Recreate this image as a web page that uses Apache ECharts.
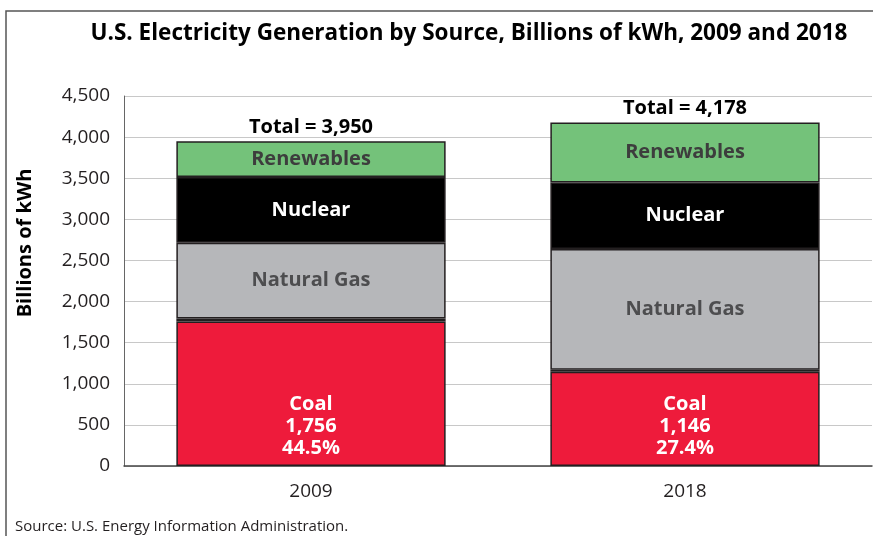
<!DOCTYPE html>
<html>
<head>
<meta charset="utf-8">
<script src="https://cdn.jsdelivr.net/npm/echarts@6/dist/echarts.min.js"></script>
<style>
  html, body { margin: 0; padding: 0; background: #fff; }
  #chart { width: 873px; height: 536px; }
</style>
</head>
<body>
<div id="chart"></div>
<script>
// values in billions of kWh
const years = ["2009", "2018"];
const coal = [1756, 1146];
const petroleum = [39, 25];
const naturalGas = [921, 1469];
const nuclear = [799, 807];
const renewables = [435, 731];
const totals = [3950, 4178];
const coalShare = ["44.5%", "27.4%"];
const yTicks = [0, 500, 1000, 1500, 2000, 2500, 3000, 3500, 4000, 4500];

const FONT = "Open Sans";
const fmt = (v) => v.toLocaleString("en-US");

const chart = echarts.init(document.getElementById("chart"));

function seg(name, data, color, label) {
  return {
    name: name,
    type: "bar",
    stack: "total",
    barWidth: "72%",
    data: data,
    itemStyle: { color: color, borderColor: "#231f20", borderWidth: 1.5 },
    label: label || { show: false },
  };
}

const option = {
  animation: false,
  textStyle: { fontFamily: FONT },
  title: {
    text: "U.S. Electricity Generation by Source, Billions of kWh, 2009 and 2018",
    left: 464,
    top: 17,
    textAlign: "center",
    textStyle: { fontFamily: FONT, fontWeight: "bold", fontSize: 22.5, color: "#000" },
  },
  graphic: [
    {
      type: "rect",
      shape: { x: 6, y: 11, width: 1000, height: 700 },
      style: { fill: "none", stroke: "#555", lineWidth: 1.5 },
      silent: true,
    },
    {
      type: "text",
      x: 25,
      y: 243,
      rotation: Math.PI / 2,
      style: {
        text: "Billions of kWh",
        fontFamily: FONT,
        fontWeight: "bold",
        fontSize: 20,
        fill: "#000",
        align: "center",
        verticalAlign: "middle",
      },
    },
    {
      type: "text",
      left: 15,
      top: 519,
      style: { text: "Source: U.S. Energy Information Administration.", fontFamily: FONT, fontSize: 15, fill: "#231f20" },
    },
  ],
  grid: { left: 124, right: 1, top: 96, bottom: 70 },
  xAxis: {
    type: "category",
    data: years,
    axisLine: { lineStyle: { color: "#444", width: 1.5 } },
    axisTick: { inside: true, length: 9, lineStyle: { color: "#444" } },
    axisLabel: { margin: 16, fontSize: 19, color: "#231f20", fontFamily: FONT },
  },
  yAxis: {
    type: "value",
    min: yTicks[0],
    max: yTicks[yTicks.length - 1],
    interval: 500,
    axisLine: { show: true, lineStyle: { color: "#666", width: 1 } },
    axisTick: { show: false },
    splitLine: { lineStyle: { color: "#c8c8c8" } },
    axisLabel: { formatter: fmt, fontSize: 19, margin: 14, color: "#231f20", fontFamily: FONT },
  },
  series: [
    seg("Coal", coal, "#ee1b3b", {
      show: true,
      position: "insideBottom",
      distance: 7,
      color: "#fff",
      fontWeight: "bold",
      fontSize: 20,
      lineHeight: 22,
      fontFamily: FONT,
      formatter: (p) => "Coal\n" + fmt(coal[p.dataIndex]) + "\n" + coalShare[p.dataIndex],
    }),
    seg("Petroleum and other", petroleum, "#d4d4d6"),
    seg("Natural Gas", naturalGas, "#b6b7ba", {
      show: true, position: "inside", color: "#4d4d4f", fontWeight: "bold", fontSize: 20, fontFamily: FONT,
      formatter: "Natural Gas",
    }),
    seg("Nuclear", nuclear, "#000", {
      show: true, position: "inside", color: "#fff", fontWeight: "bold", fontSize: 20, fontFamily: FONT,
      formatter: "Nuclear",
    }),
    seg("Renewables", renewables, "#74c27a", {
      show: true, position: "inside", color: "#3d3d3d", fontWeight: "bold", fontSize: 20, fontFamily: FONT,
      formatter: "Renewables",
    }),
    {
      name: "Total",
      type: "bar",
      stack: "total",
      barWidth: "72%",
      data: years.map(() => 0),
      itemStyle: { color: "transparent" },
      label: {
        show: true,
        position: "top",
        distance: 4,
        color: "#000",
        fontWeight: "bold",
        fontSize: 20,
        fontFamily: FONT,
        formatter: (p) => "Total = " + fmt(totals[p.dataIndex]),
      },
    },
  ],
};

chart.setOption(option);
</script>
</body>
</html>
